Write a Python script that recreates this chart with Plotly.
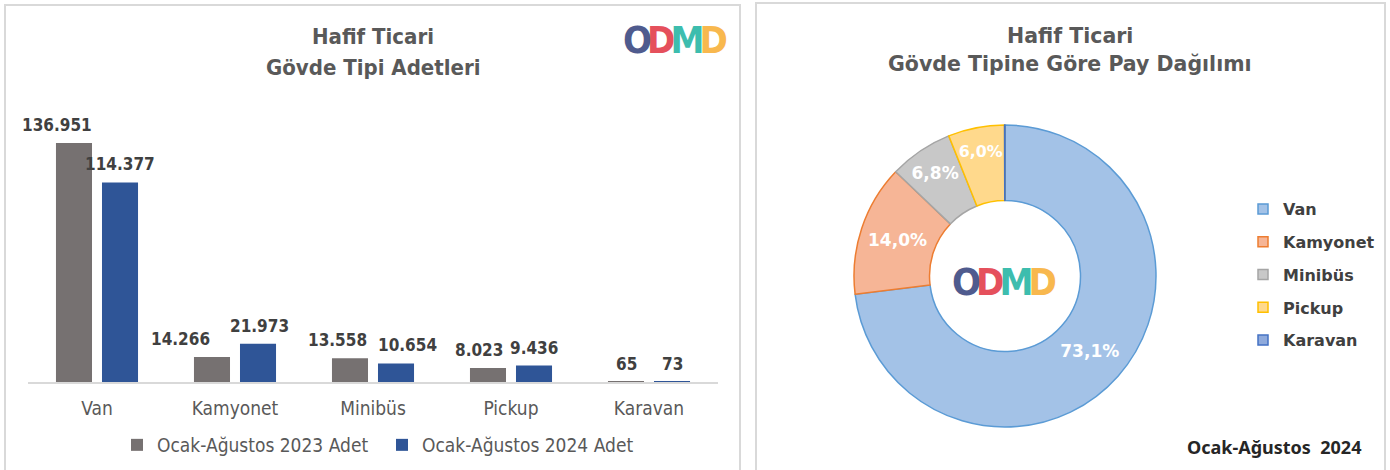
import plotly.graph_objects as go

W, H = 1390, 470

# ---------------- data ----------------
categories = ["Van", "Kamyonet", "Minibüs", "Pickup", "Karavan"]
series_2023_name = "Ocak-Ağustos 2023 Adet"
series_2024_name = "Ocak-Ağustos 2024 Adet"
values_2023 = [136951, 14266, 13558, 8023, 65]
values_2024 = [114377, 21973, 10654, 9436, 73]

left_title = ["Hafif Ticari", "Gövde Tipi Adetleri"]
right_title = ["Hafif Ticari", "Gövde Tipine Göre Pay Dağılımı"]
period_label = "Ocak-Ağustos  2024"
logo_letters = ["O", "D", "M", "D"]

# ---------------- styles ----------------
bar_colors = ["#767171", "#2F5597"]
pie_fill = ["#A3C2E7", "#F6B596", "#C8C8C8", "#FFD98C", "#8FAADC"]
pie_line = ["#5B9BD5", "#ED7D31", "#A5A5A5", "#FFC000", "#4472C4"]
logo_colors = ["#4F5B8E", "#E5505C", "#3DBDAE", "#F8B84E"]
# horizontal nudges (px) of the value labels relative to their bar centre
label_nudge_2023 = [-17, -32, -13, -9, 0]
label_nudge_2024 = [0, 1, 11, 0, 0]
BAR_HALF_OFFSET = 23  # px from category centre to each bar centre
FONT_L = "DejaVu Sans Condensed, Liberation Sans Narrow, Liberation Sans, sans-serif"
FONT_R = "DejaVu Sans, sans-serif"


def px(x):
    return x / W


def py(y):
    return 1 - y / H


fig = go.Figure()

# ---- bars ----
for name, vals, col in [(series_2023_name, values_2023, bar_colors[0]),
                        (series_2024_name, values_2024, bar_colors[1])]:
    fig.add_trace(go.Bar(
        x=categories, y=vals, name=name, marker=dict(color=col, line=dict(width=0)),
        legend="legend", hoverinfo="x+y+name",
    ))

# value labels anchored at each bar's value on the axes
for vals, sign, nudges in [(values_2023, -1, label_nudge_2023),
                           (values_2024, 1, label_nudge_2024)]:
    for cat, v, nd in zip(categories, vals, nudges):
        fig.add_annotation(
            x=cat, y=v, xref="x", yref="y", showarrow=False,
            text="<b>%s</b>" % f"{v:,}".replace(",", "."),
            xanchor="center", yanchor="bottom",
            xshift=sign * BAR_HALF_OFFSET + nd, yshift=6,
            font=dict(family=FONT_L, size=17, color="#404040"),
        )

# ---- donut ----
total = sum(values_2024)
texts = [("<b>%.1f%%</b>" % (v / total * 100)).replace(".", ",") if v / total >= 0.01 else ""
         for v in values_2024]
cx, cy, r = 1005, 276, 151
fig.add_trace(go.Pie(
    labels=categories, values=values_2024, hole=0.5, sort=False,
    direction="clockwise", rotation=0,
    text=texts, textinfo="text", textposition="inside",
    insidetextorientation="horizontal",
    textfont=dict(family=FONT_R, size=17, color="white"),
    marker=dict(colors=pie_fill, line=dict(color=pie_line, width=1.5)),
    domain=dict(x=[px(cx - r), px(cx + r)], y=[py(cy + r), py(cy - r)]),
    showlegend=False, hoverinfo="label+value+percent",
))

# legend entries for the donut (one group per category for spacing)
for cat, fc, lc in zip(categories, pie_fill, pie_line):
    fig.add_trace(go.Scatter(
        x=[None], y=[None], mode="markers", name="<b>%s</b>" % cat, legend="legend2",
        legendgroup=cat,
        marker=dict(symbol="square", size=10, color=fc, line=dict(color=lc, width=1.5)),
    ))

fig.update_layout(
    width=W, height=H,
    margin=dict(l=0, r=0, t=0, b=0),
    paper_bgcolor="white", plot_bgcolor="white",
    separators=",.",
    barmode="group", bargap=0.333, bargroupgap=0.217,
    font=dict(family=FONT_L, color="#595959"),
    xaxis=dict(domain=[px(28), px(718)], range=[-0.5, len(categories) - 0.5],
               showgrid=False, zeroline=False,
               showline=True, linecolor="#D9D9D9", linewidth=1.5,
               ticks="", tickfont=dict(family=FONT_L, size=19, color="#595959"),
               ticklabelstandoff=8, fixedrange=True),
    yaxis=dict(domain=[py(382), py(100)], range=[0, 161600], visible=False,
               fixedrange=True),
    legend=dict(orientation="h", x=px(117), y=py(445), xanchor="left", yanchor="middle",
                font=dict(family=FONT_L, size=19, color="#595959"),
                bgcolor="rgba(0,0,0,0)", entrywidth=220, entrywidthmode="pixels"),
    legend2=dict(orientation="v", x=px(1243), y=py(192), xanchor="left", yanchor="top",
                 font=dict(family=FONT_R, size=16, color="#404040"),
                 tracegroupgap=9, bgcolor="rgba(0,0,0,0)"),
    showlegend=True,
)

# panel borders
for x0, y0, x1, y1 in [(5, 5, 740, 480), (756, 3, 1385, 480)]:
    fig.add_shape(type="rect", xref="paper", yref="paper",
                  x0=px(x0), x1=px(x1), y0=py(y1), y1=py(y0),
                  line=dict(color="#D9D9D9", width=2), fillcolor="rgba(0,0,0,0)",
                  layer="below")

# titles
for i, t in enumerate(left_title):
    fig.add_annotation(text="<b>%s</b>" % t, x=px(373), y=py([37, 67][i]),
                       xref="paper", yref="paper", showarrow=False,
                       xanchor="center", yanchor="middle",
                       font=dict(family=FONT_L, size=22, color="#595959"))
for i, t in enumerate(right_title):
    fig.add_annotation(text="<b>%s</b>" % t, x=px(1070), y=py([36, 64][i]),
                       xref="paper", yref="paper", showarrow=False,
                       xanchor="center", yanchor="middle",
                       font=dict(family=FONT_R, size=20.5, color="#595959"))

fig.add_annotation(text="<b>%s</b>" % period_label, x=px(1363), y=py(447),
                   xref="paper", yref="paper", showarrow=False,
                   xanchor="right", yanchor="middle",
                   font=dict(family="Noto Sans, sans-serif", size=18, color="#262626"))

# logos
logo_text = "".join("<span style='color:%s;letter-spacing:-5px'>%s</span>" % (c, ch)
                    for ch, c in zip(logo_letters, logo_colors))
for lx, ly in [(674, 40), (1003, 282)]:
    fig.add_annotation(text="<b>%s</b>" % logo_text, x=px(lx), y=py(ly),
                       xref="paper", yref="paper", showarrow=False,
                       xanchor="center", yanchor="middle",
                       font=dict(family=FONT_L, size=38))

fig.write_html("out.html", config={"displayModeBar": False},
               post_script="document.body.style.margin='0';document.body.style.overflow='hidden';")
